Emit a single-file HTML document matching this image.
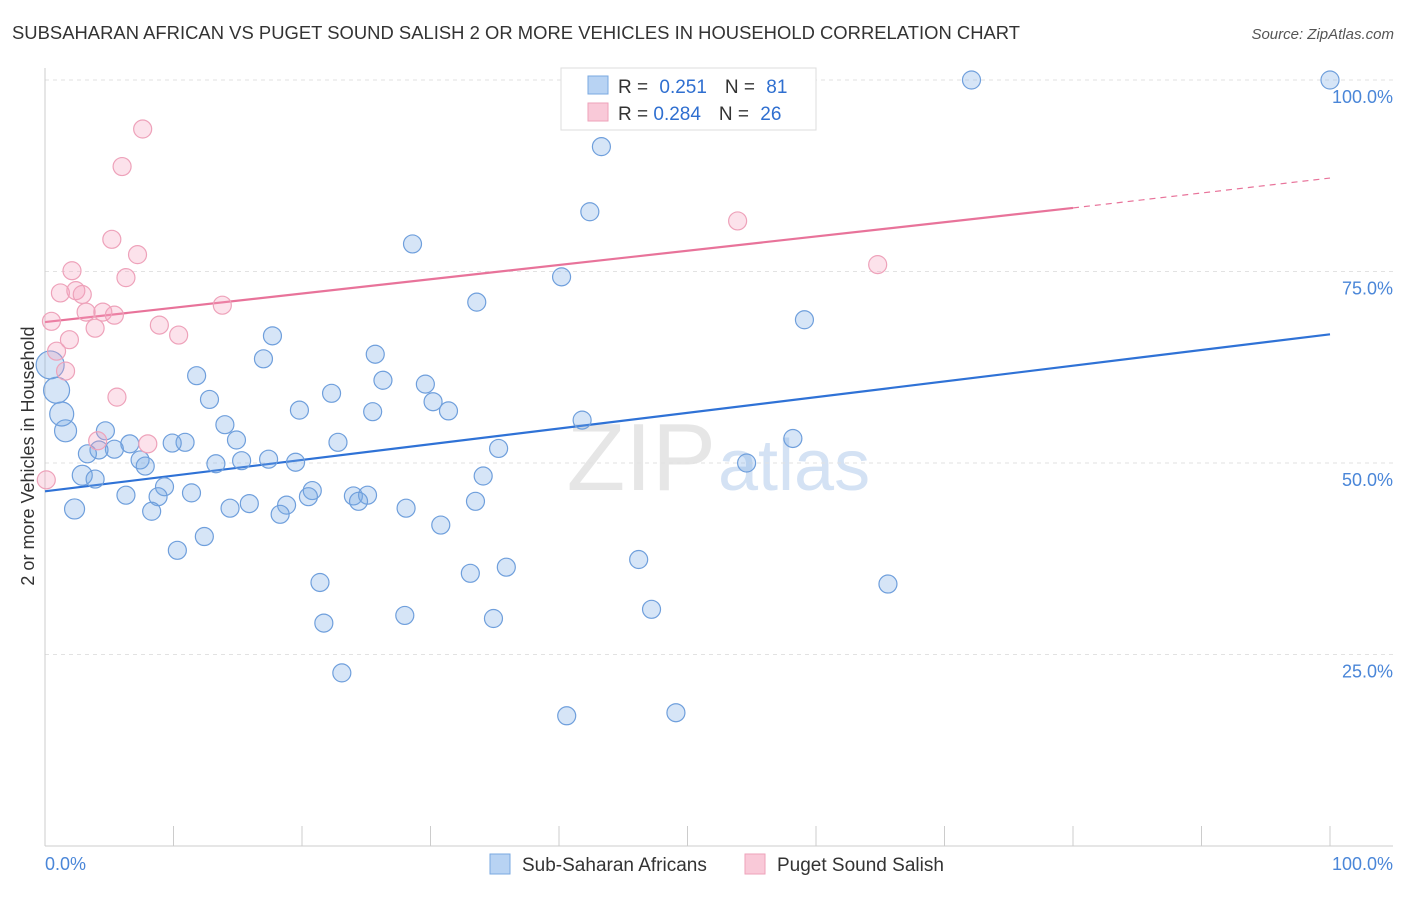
<!DOCTYPE html>
<html><head><meta charset="utf-8"><style>
body{margin:0;background:#fff;font-family:"Liberation Sans",sans-serif;}
svg text{font-family:"Liberation Sans",sans-serif;}
</style></head><body>
<svg id="chart" width="1406" height="892">
<text x="12" y="39" font-size="18.4" fill="#333" textLength="1008">SUBSAHARAN AFRICAN VS PUGET SOUND SALISH 2 OR MORE VEHICLES IN HOUSEHOLD CORRELATION CHART</text>
<text x="1394" y="39" font-size="15" fill="#555" text-anchor="end" font-style="italic">Source: ZipAtlas.com</text>
<text x="716" y="490" font-size="96" fill="#e6e6e6" text-anchor="end" font-family="Liberation Serif">ZIP</text>
<text x="718" y="490" font-size="72" fill="#d4e2f4">atlas</text>
<g id="grid"></g><g id="axes"></g><g id="trend"></g><g id="pts"></g>
<text transform="translate(34,456) rotate(-90)" font-size="18" fill="#333" text-anchor="middle">2 or more Vehicles in Household</text>
<text x="45" y="870" font-size="18" fill="#4a86d8">0.0%</text>
<text x="1393" y="870" font-size="18" fill="#4a86d8" text-anchor="end">100.0%</text>
<g>
<rect x="561" y="68" width="255" height="62" fill="#fff" stroke="#ddd"/>
<rect x="588" y="76" width="20" height="18" fill="#b8d3f3" stroke="#7aa8e0"/>
<rect x="588" y="103" width="20" height="18" fill="#f9c9d8" stroke="#eea2ba"/>
<text x="618" y="93" font-size="19" fill="#333">R = <tspan fill="#2f6fd0" dx="6">0.251</tspan><tspan dx="18" fill="#333">N = </tspan><tspan fill="#2f6fd0" dx="6">81</tspan></text>
<text x="618" y="120" font-size="19" fill="#333">R = <tspan fill="#2f6fd0">0.284</tspan><tspan dx="18" fill="#333">N = </tspan><tspan fill="#2f6fd0" dx="6">26</tspan></text>
</g>
<g>
<rect x="490" y="854" width="20" height="20" fill="#b8d3f3" stroke="#7aa8e0"/>
<text x="522" y="871" font-size="19" fill="#333">Sub-Saharan Africans</text>
<rect x="745" y="854" width="20" height="20" fill="#f9c9d8" stroke="#eea2ba"/>
<text x="777" y="871" font-size="19" fill="#333">Puget Sound Salish</text>
</g>
</svg>
<script>
const yTicks=[25,50,75,100];
const yTickLabels=["25.0%","50.0%","75.0%","100.0%"];
const xTicks=[0,10,20,30,40,50,60,70,80,90,100];
const blueX=[72.1,100,43.3,42.4,28.6,40.2,33.6,59.1,17.7,17,25.7,11.8,26.3,29.6,22.3,12.8,30.2,31.4,19.8,25.5,41.8,14,58.2,14.9,22.8,10.9,9.9,6.6,5.4,4.2,3.3,7.4,7.8,4.7,13.3,15.3,17.4,19.5,35.3,54.6,34.1,2.9,3.9,9.3,11.4,6.3,8.8,20.8,20.5,24,25.1,24.4,15.9,14.4,18.8,33.5,28.1,8.3,18.3,2.3,30.8,12.4,10.3,46.2,35.9,33.1,21.4,65.6,47.2,28,34.9,21.7,23.1,40.6,49.1,1.6,1.3,0.9,0.4];
const blueY=[100,100,91.3,82.8,78.6,74.3,71,68.7,66.6,63.6,64.2,61.4,60.8,60.3,59.1,58.3,58,56.8,56.9,56.7,55.6,55,53.2,53,52.7,52.7,52.6,52.5,51.8,51.7,51.2,50.4,49.6,54.2,49.9,50.3,50.5,50.1,51.9,50,48.3,48.4,47.9,46.9,46.1,45.8,45.6,46.4,45.6,45.7,45.8,45,44.7,44.1,44.5,45,44.1,43.7,43.3,44,41.9,40.4,38.6,37.4,36.4,35.6,34.4,34.2,30.9,30.1,29.7,29.1,22.6,17,17.4,54.2,56.4,59.5,62.8];
const blueR=[9,9,9,9,9,9,9,9,9,9,9,9,9,9,9,9,9,9,9,9,9,9,9,9,9,9,9,9,9,9,9,9,9,9,9,9,9,9,9,9,9,10,9,9,9,9,9,9,9,9,9,9,9,9,9,9,9,9,9,10,9,9,9,9,9,9,9,9,9,9,9,9,9,9,9,11,12,13,14];
const pinkX=[7.6,6,53.9,5.2,7.2,64.8,2.1,6.3,1.2,2.4,2.9,3.2,4.5,5.4,13.8,0.5,3.9,8.9,10.4,1.9,0.9,1.6,5.6,8,4.1,0.1];
const pinkY=[93.6,88.7,81.6,79.2,77.2,75.9,75.1,74.2,72.2,72.5,72,69.7,69.7,69.3,70.6,68.5,67.6,68,66.7,66.1,64.6,62,58.6,52.5,52.9,47.8];
const blueTrend=[0,46.3,100,66.8];
const pinkTrend=[0,68.4,80,83.3,100,87.2];
const NS='http://www.w3.org/2000/svg';
const X=v=>45+v*12.85, Y=v=>846-v*7.66;
function mk(t,a,p){const e=document.createElementNS(NS,t);for(const k in a)e.setAttribute(k,a[k]);p.appendChild(e);return e;}
const grid=document.getElementById('grid'),axes=document.getElementById('axes'),tr=document.getElementById('trend'),pts=document.getElementById('pts');
yTicks.forEach((t,i)=>{
 const l=mk('line',{x1:45,x2:1393,y1:Y(t),y2:Y(t),stroke:'#e2e2e2','stroke-dasharray':'4,4'},grid);
 
 
 const tx=mk('text',{x:1393,y:Y(t)+23,'font-size':18,fill:'#4a86d8','text-anchor':'end'},grid);
 tx.textContent=yTickLabels[i];
 
 
});
const ax=mk('line',{x1:45,x2:1393,y1:846,y2:846,stroke:'#ccc'},axes);


const ay=mk('line',{x1:45,x2:45,y1:68,y2:846,stroke:'#ccc'},axes);


xTicks.forEach(t=>{const l=mk('line',{x1:X(t),x2:X(t),y1:826,y2:846,stroke:'#ccc'},axes);
 
 });
const bl=mk('line',{x1:X(blueTrend[0]),y1:Y(blueTrend[1]),x2:X(blueTrend[2]),y2:Y(blueTrend[3]),stroke:'#2f72d6','stroke-width':2.2},tr);


const pl=mk('line',{x1:X(pinkTrend[0]),y1:Y(pinkTrend[1]),x2:X(pinkTrend[2]),y2:Y(pinkTrend[3]),stroke:'#e8739a','stroke-width':2.2},tr);


const pd=mk('line',{x1:X(pinkTrend[2]),y1:Y(pinkTrend[3]),x2:X(pinkTrend[4]),y2:Y(pinkTrend[5]),stroke:'#e8739a','stroke-width':1.2,'stroke-dasharray':'6,5'},tr);


blueX.forEach((x,i)=>{const c=mk('circle',{cx:X(x),cy:Y(blueY[i]),r:blueR[i],fill:'rgba(120,170,230,0.3)',stroke:'#6f9fdc','stroke-width':1.2},pts);
 
 });
pinkX.forEach((x,i)=>{const c=mk('circle',{cx:X(x),cy:Y(pinkY[i]),r:9,fill:'rgba(245,160,190,0.3)',stroke:'#eea2ba','stroke-width':1.2},pts);
 
 });
</script>
</body></html>
